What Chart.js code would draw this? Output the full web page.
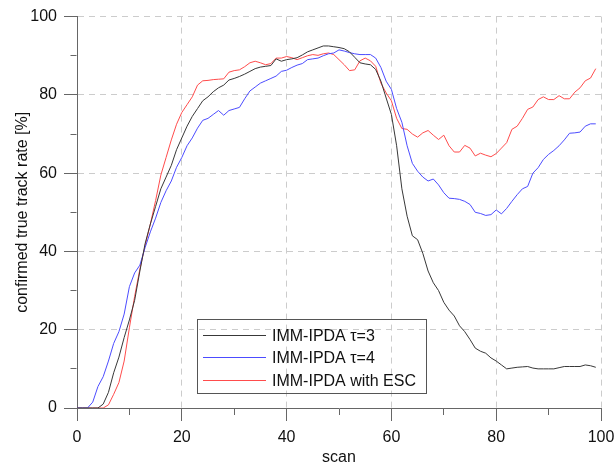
<!DOCTYPE html>
<html lang="en">
<head>
    <meta charset="UTF-8">
    <title>confirmed true track rate</title>
    <script src="https://cdn.jsdelivr.net/npm/chart.js"></script>
    <style>
        html, body { margin: 0; padding: 0; background: #ffffff; }
        #wrap { width: 615px; height: 468px; }
    </style>
</head>
<body>
<div id="wrap"><canvas id="trackChart" width="615" height="468"></canvas></div>

<script>
  // scan index (x axis)
  const scans = [
    0, 1, 2, 3, 4, 5, 6, 7, 8, 9, 10, 11, 12, 13, 14, 15, 16, 17, 18, 19,
    20, 21, 22, 23, 24, 25, 26, 27, 28, 29, 30, 31, 32, 33, 34, 35, 36, 37, 38, 39,
    40, 41, 42, 43, 44, 45, 46, 47, 48, 49, 50, 51, 52, 53, 54, 55, 56, 57, 58, 59,
    60, 61, 62, 63, 64, 65, 66, 67, 68, 69, 70, 71, 72, 73, 74, 75, 76, 77, 78, 79,
    80, 81, 82, 83, 84, 85, 86, 87, 88, 89, 90, 91, 92, 93, 94, 95, 96, 97, 98, 99
  ];

  // IMM-IPDA tau=3
  const tau3 = [
    0, 0, 0, 0, 0, 1, 4, 9, 13, 18, 22.5, 27.5, 35, 42, 47, 51.5, 56, 59, 62, 66,
    69, 72, 74.5, 76.5, 78.5, 79.5, 80.8, 81.8, 82.5, 83.8, 84.2, 84.7, 85.3, 86, 86.7, 87.1, 87.3, 87.5, 89.2, 88.6,
    89, 89.2, 89.5, 90.2, 91, 91.5, 92, 92.5, 92.5, 92.3, 92.1, 91.8, 91, 89.6, 88.2, 87.9, 87.7, 86.5, 83.5, 79.2,
    75, 67, 56, 49, 44, 43, 39.5, 35, 32, 30, 27, 25, 23.5, 21, 19.5, 17.5, 15.3, 14.5, 14, 12.8,
    12, 11, 10, 10.2, 10.4, 10.5, 10.6, 10.2, 10, 10, 10, 10, 10.3, 10.6, 10.6, 10.6, 10.6, 11, 10.8, 10.4
  ];

  // IMM-IPDA tau=4
  const tau4 = [
    0, 0, 0, 1.5, 5.5, 8, 12, 16.5, 19.5, 24, 31, 34.5, 36.5, 41, 45, 48.5, 52.5, 55.5, 58, 61.5,
    64, 67, 69, 71.5, 73.5, 74, 75, 76, 74.8, 76, 76.4, 76.8, 79, 81, 82, 83, 83.6, 84.2, 84.8, 86,
    86.3, 87, 87.6, 88, 89, 89.2, 89.4, 90, 90.5, 90.7, 91.5, 91.2, 90.8, 90.5, 90.3, 90.3, 90.3, 89.4, 87, 83.5,
    81.4, 76.5, 73, 67, 62.5, 60.5, 59, 58, 58.5, 57, 55, 53.6, 53.5, 53.3, 52.8, 52, 50, 49.7, 49.2, 49.4,
    50.6, 49.6, 51, 52.8, 54.5, 56, 56.6, 60, 61.4, 63.5, 64.8, 65.8, 67, 68.5, 70.2, 70.3, 70.5, 72, 72.6, 72.6
  ];

  // IMM-IPDA with ESC
  const esc = [
    0, 0, 0, 0, 0, 0, 0.8, 3.5, 6.5, 12, 20.5, 28.5, 35.5, 41.5, 47, 53, 59.5, 64, 68.5, 72.5,
    75.5, 77.5, 79.5, 82.5, 83.6, 83.7, 83.9, 84, 84.1, 85.8, 86.2, 86.4, 87.2, 88.2, 88.6, 88.2, 87.7, 88, 89.4, 89.4,
    89.8, 89.5, 89, 89.5, 90, 90.3, 90.1, 90.5, 90.7, 90.3, 89, 87.7, 86.2, 86.4, 88.7, 89.4, 88.7, 87.3, 83, 80.5,
    78.5, 74, 71.4, 71.2, 70, 69.2, 70.3, 70.9, 69.7, 68.6, 69.7, 67, 65.4, 65.4, 67.1, 66.4, 64.4, 65.1, 64.6, 64.2,
    65, 66.4, 67.8, 71.2, 72, 74, 76.3, 76.9, 78.8, 79.5, 78.8, 78.8, 79.8, 79, 79, 80.7, 81.8, 83.6, 84.3, 86.7
  ];

  const seriesNames = ['IMM-IPDA \u03c4=3', 'IMM-IPDA \u03c4=4', 'IMM-IPDA with ESC'];
  const seriesColors = ['#383838', '#4c4cff', '#ff4c4c'];

  const FONT = "'Liberation Sans', Arial, sans-serif";

  function toPoints(values) {
      return scans.map((s, i) => ({ x: s, y: values[i] }));
  }

  // legend drawn inside the plot, transparent box
  const innerLegend = {
      id: 'innerLegend',
      afterDatasetsDraw(chart) {
          const { ctx, chartArea } = chart;
          const left = chartArea.left + 120;
          const top = chartArea.bottom - 89;
          const w = 229, h = 74;
          ctx.save();
          ctx.strokeStyle = '#555555';
          ctx.lineWidth = 1;
          ctx.setLineDash([]);
          ctx.strokeRect(Math.round(left) + 0.5, Math.round(top) + 0.5, w, h);
          ctx.font = '16px ' + FONT;
          ctx.textBaseline = 'middle';
          seriesNames.forEach((name, i) => {
              const y = Math.round(top + 16 + i * 22.3) + 0.5;
              ctx.strokeStyle = seriesColors[i];
              ctx.beginPath();
              ctx.moveTo(left + 6, y);
              ctx.lineTo(left + 69, y);
              ctx.stroke();
              ctx.fillStyle = '#111111';
              ctx.fillText(name, left + 75, y + 1);
          });
          ctx.restore();
      }
  };

  const isMajor = (v) => Math.round(v) % 20 === 0;

  function renderChart() {
      const ctx = document.getElementById('trackChart').getContext('2d');
      new Chart(ctx, {
          type: 'line',
          data: {
              datasets: [
                  { label: seriesNames[0], data: toPoints(tau3), borderColor: seriesColors[0] },
                  { label: seriesNames[1], data: toPoints(tau4), borderColor: seriesColors[1] },
                  { label: seriesNames[2], data: toPoints(esc), borderColor: seriesColors[2] }
              ]
          },
          options: {
              responsive: false,
              animation: false,
              devicePixelRatio: 1,
              layout: { padding: { left: 0, right: 14, top: 14, bottom: 0 } },
              elements: {
                  line: { borderWidth: 1, tension: 0, fill: false },
                  point: { radius: 0 }
              },
              scales: {
                  x: {
                      type: 'linear',
                      min: 0,
                      max: 100,
                      afterFit(scale) {
                          scale.height = 60;
                          scale.paddingLeft = 0;
                          scale.paddingRight = 0;
                      },
                      ticks: {
                          stepSize: 10,
                          autoSkip: false,
                          maxRotation: 0,
                          padding: 7,
                          color: '#111111',
                          font: { family: FONT, size: 16 },
                          callback: (v) => isMajor(v) ? v : ''
                      },
                      grid: {
                          color: (c) => isMajor(c.tick.value) ? '#cccccc' : 'rgba(0,0,0,0)',
                          tickColor: '#666666',
                          tickLength: 13,
                          tickBorderDash: (c) => isMajor(c.tick.value) ? [] : [6, 30]
                      },
                      border: { color: '#666666', width: 1, dash: [6, 5] },
                      title: {
                          display: true,
                          text: 'scan',
                          color: '#111111',
                          font: { family: FONT, size: 16 },
                          padding: { top: 0, bottom: 1 }
                      }
                  },
                  y: {
                      min: 0,
                      max: 100,
                      afterFit(scale) { scale.width = 77; },
                      ticks: {
                          stepSize: 10,
                          autoSkip: false,
                          padding: 7,
                          color: '#111111',
                          font: { family: FONT, size: 16 },
                          callback: (v) => isMajor(v) ? v : ''
                      },
                      grid: {
                          color: (c) => isMajor(c.tick.value) ? '#cccccc' : 'rgba(0,0,0,0)',
                          tickColor: '#666666',
                          tickLength: 13,
                          tickBorderDash: (c) => isMajor(c.tick.value) ? [] : [0, 6.5, 6, 30]
                      },
                      border: { color: '#666666', width: 1, dash: [6, 5] },
                      title: {
                          display: true,
                          text: 'confirmed true track rate [%]',
                          color: '#111111',
                          font: { family: FONT, size: 16 },
                          padding: { top: 13, bottom: 0 }
                      }
                  }
              },
              plugins: {
                  legend: { display: false },
                  tooltip: { enabled: false }
              }
          },
          plugins: [innerLegend]
      });
  }

  window.onload = function() {
      renderChart();
  };
</script>
</body>
</html>
